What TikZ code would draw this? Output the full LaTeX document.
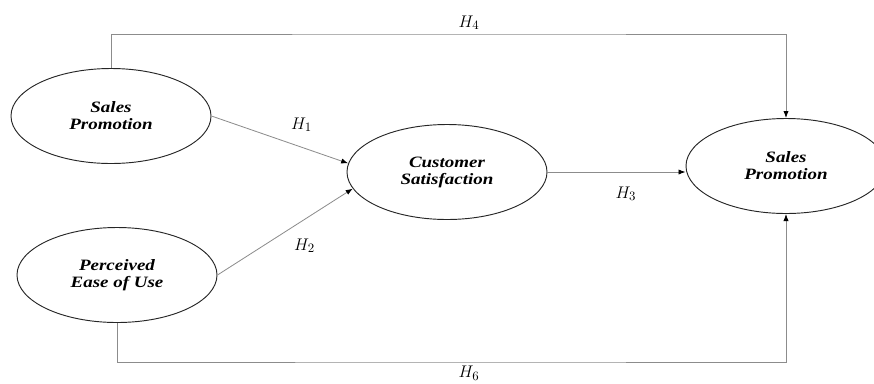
\documentclass[tikz,border=0pt]{standalone}
\usepackage{fontspec}
\setmainfont{Liberation Serif}
\newfontfamily\constructfont[FakeStretch=1.2]{Liberation Serif}
\usetikzlibrary{positioning, calc, arrows.meta, shapes}
\tikzset{construct/.style={ellipse, draw=black!85, line width=0.8pt, minimum width=6cm, minimum height=2.85cm, inner sep=0pt, align=center, font=\constructfont\fontsize{13.5}{14.5}\selectfont\bfseries\itshape}}
\tikzset{link/.style={draw=black!45, line width=0.7pt, -{Latex[black, length=6pt, width=4.5pt]}}}
\tikzset{hyp/.style={font=\fontsize{15}{17}\selectfont, text=black}}

\begin{document}
\begin{tikzpicture}[x=0.03cm, y=-0.03cm]
      \useasboundingbox (0,0) rectangle (874,383);

      \node[construct] (sp) at (111,116) {Sales\\Promotion};
      \node[construct] (peou) at (117,275) {Perceived\\Ease of Use};
      \node[construct] (cs) at (447,172) {Customer\\Satisfaction};
      \node[construct] (sp2) at (786,166) {Sales\\Promotion};

      \coordinate (top) at (469,34);
      \coordinate (bot) at (469,362);

      \draw[link] (sp.east) -- node[hyp, above right=3pt and 6pt] {$H_1$} (cs.175);
      \draw[link] (peou.east) -- node[hyp, below right=2pt and 4pt] {$H_2$} (cs.190);
      \draw[link] (cs.east) -- node[hyp, below=9pt, xshift=8pt] {$H_3$} (cs.east -| sp2.west);
      \draw[link] (sp.north) |- (top) -| (sp2.north);
      \node[hyp, above=0pt] at (top) {$H_4$};
      \draw[link] (peou.south) |- (bot) -| (sp2.south);
      \node[hyp, below=0pt] at (bot) {$H_6$};
    \end{tikzpicture}
\end{document}
